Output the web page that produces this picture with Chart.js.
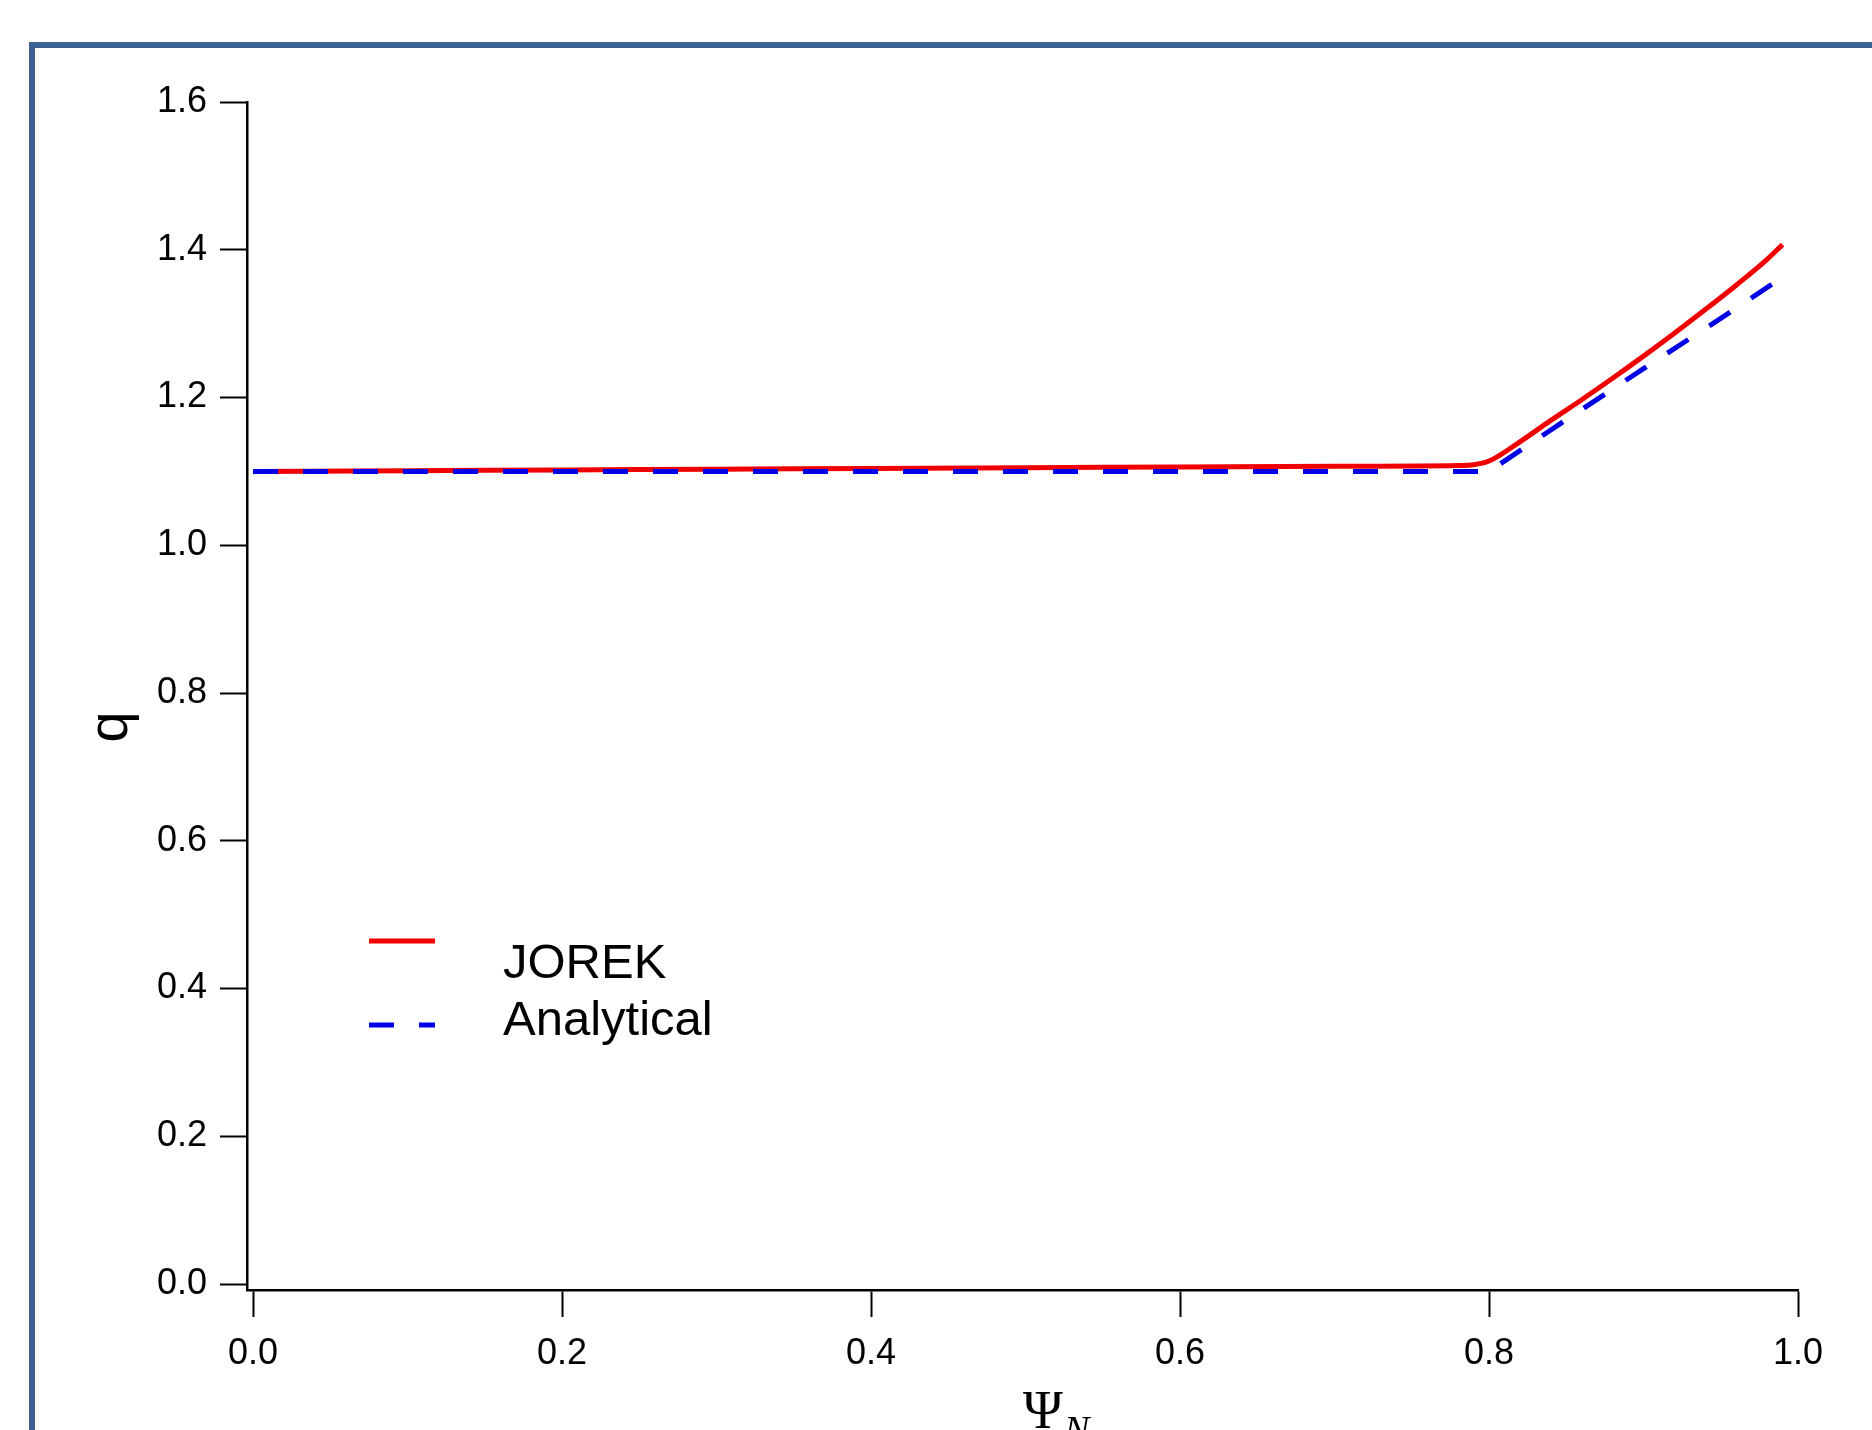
<!DOCTYPE html>
<html>
<head>
<meta charset="utf-8">
<script src="https://cdn.jsdelivr.net/npm/chart.js@4.4.1/dist/chart.umd.min.js"></script>
<style>
  html, body { margin: 0; padding: 0; background: #fff; overflow: hidden; }
  #frame {
    position: absolute; left: 29px; top: 42px; width: 2000px; height: 1500px;
    border-left: 6px solid #3d6191; border-top: 6px solid #3d6191;
  }
  #plot { position: absolute; left: 0; top: 0; }
</style>
</head>
<body>
<div id="frame"></div>
<canvas id="plot" width="1872" height="1430"></canvas>
<script>
// q profile vs normalised flux
const psiJorek = [0, 0.1, 0.2, 0.3, 0.4, 0.5, 0.6, 0.7, 0.78, 0.79, 0.80, 0.82, 0.84, 0.86, 0.88, 0.90, 0.92, 0.94, 0.96, 0.98, 0.99];
const qJorek   = [1.100, 1.101, 1.102, 1.103, 1.104, 1.105, 1.106, 1.107, 1.108, 1.109, 1.114, 1.140, 1.169, 1.197, 1.226, 1.256, 1.287, 1.319, 1.352, 1.387, 1.407];

const psiAnalytical = [0, 0.2, 0.4, 0.6, 0.8, 0.85, 0.90, 0.95, 0.99];
const qAnalytical   = [1.10, 1.10, 1.10, 1.10, 1.10, 1.170, 1.239, 1.307, 1.363];

const xTicks = [0.0, 0.2, 0.4, 0.6, 0.8, 1.0];
const yTicks = [0.0, 0.2, 0.4, 0.6, 0.8, 1.0, 1.2, 1.4, 1.6];

const sans = "'Liberation Sans', Arial, sans-serif";
const serif = "'Liberation Serif', 'Times New Roman', serif";

const toPoints = (xs, ys) => xs.map((x, i) => ({ x, y: ys[i] }));

// axis titles + the in-plot legend
const annotatePlugin = {
  id: "annotate",
  afterDraw(chart) {
    const ctx = chart.ctx;
    ctx.save();

    // y title "q", rotated
    ctx.fillStyle = "#000";
    ctx.font = "56px " + sans;
    ctx.translate(127, 727);
    ctx.rotate(-Math.PI / 2);
    ctx.textAlign = "center";
    ctx.textBaseline = "alphabetic";
    ctx.fillText("q", 0, 0);
    ctx.setTransform(1, 0, 0, 1, 0, 0);

    // x title Psi_N
    ctx.textAlign = "left";
    ctx.font = "54px " + serif;
    ctx.fillText("\u03A8", 1023, 1428);
    ctx.font = "italic 38px " + serif;
    ctx.fillText("N", 1064, 1442);

    // legend
    const items = chart.data.datasets;
    const rows = [{ lineY: 941, textY: 978 }, { lineY: 1025, textY: 1035 }];
    const order = [1, 0]; // JOREK first, then Analytical
    order.forEach((di, r) => {
      const ds = items[di];
      ctx.strokeStyle = ds.borderColor;
      ctx.lineWidth = ds.borderWidth;
      ctx.setLineDash(ds.borderDash || []);
      ctx.beginPath();
      ctx.moveTo(369, rows[r].lineY);
      ctx.lineTo(435, rows[r].lineY);
      ctx.stroke();
      ctx.setLineDash([]);
      ctx.fillStyle = "#000";
      ctx.font = "49px " + sans;
      ctx.fillText(ds.label, 503, rows[r].textY);
    });

    ctx.restore();
  }
};

const axisStyle = (ticks) => ({
  type: "linear",
  afterBuildTicks: (s) => { s.ticks = ticks.map(v => ({ value: v })); },
  ticks: {
    callback: (v) => Number(v).toFixed(1),
    font: { size: 36, family: sans },
    color: "#000",
    autoSkip: false,
    maxRotation: 0
  },
  grid: {
    drawOnChartArea: false,
    drawTicks: true,
    tickLength: 27,
    tickWidth: 2,
    tickColor: "#000"
  },
  border: { display: true, color: "#000", width: 2.5 }
});

const xAxis = axisStyle(xTicks);
xAxis.min = -0.0039;
xAxis.max = 1.0;
xAxis.ticks.padding = 15;
xAxis.afterFit = (s) => { s.height = 140; };

const yAxis = axisStyle(yTicks);
yAxis.min = -0.0081;
yAxis.max = 1.6;
yAxis.ticks.padding = 13;
yAxis.afterFit = (s) => { s.width = 247; };

new Chart(document.getElementById("plot").getContext("2d"), {
  type: "line",
  data: {
    datasets: [
      {
        label: "Analytical",
        data: toPoints(psiAnalytical, qAnalytical),
        borderColor: "#0000e6",
        borderWidth: 5,
        borderDash: [25, 25],
        pointRadius: 0,
        tension: 0,
        order: 0
      },
      {
        label: "JOREK",
        data: toPoints(psiJorek, qJorek),
        borderColor: "#f00000",
        borderWidth: 5,
        pointRadius: 0,
        cubicInterpolationMode: "monotone",
        order: 1
      }
    ]
  },
  options: {
    responsive: false,
    animation: false,
    layout: { padding: { left: 0, top: 102, right: 74, bottom: 0 } },
    plugins: { legend: { display: false }, tooltip: { enabled: false } },
    scales: { x: xAxis, y: yAxis }
  },
  plugins: [annotatePlugin]
});
</script>
</body>
</html>
